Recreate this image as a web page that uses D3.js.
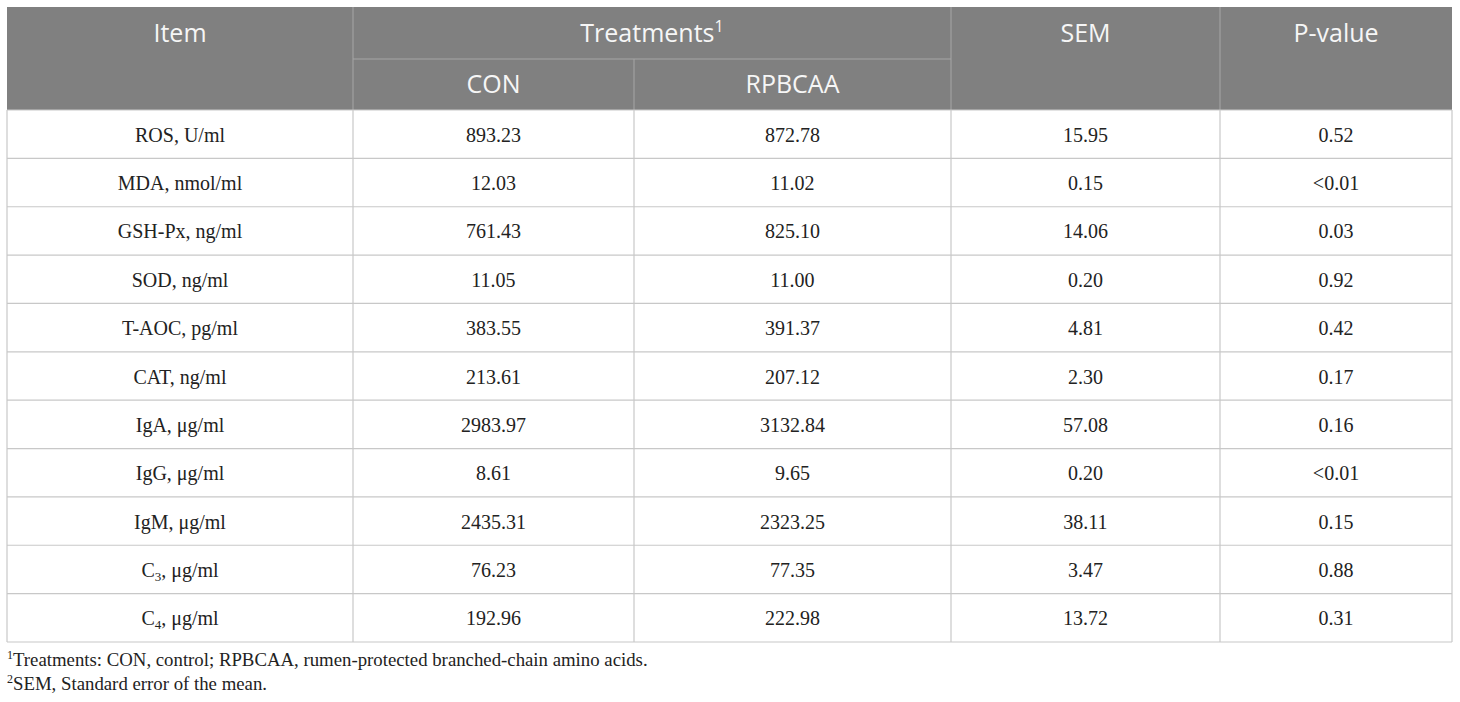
<!DOCTYPE html>
<html>
<head>
<meta charset="utf-8">
<script src="https://cdn.jsdelivr.net/npm/d3@7"></script>
<style>
  body { margin: 0; background: #fff; }
</style>
</head>
<body>
<div id="wrapper"></div>
<script>
// table data
const items = ["ROS, U/ml", "MDA, nmol/ml", "GSH-Px, ng/ml", "SOD, ng/ml", "T-AOC, pg/ml",
    "CAT, ng/ml", "IgA, μg/ml", "IgG, μg/ml", "IgM, μg/ml", "C3, μg/ml", "C4, μg/ml"];
const conValues = ["893.23", "12.03", "761.43", "11.05", "383.55", "213.61", "2983.97", "8.61", "2435.31", "76.23", "192.96"];
const rpbcaaValues = ["872.78", "11.02", "825.10", "11.00", "391.37", "207.12", "3132.84", "9.65", "2323.25", "77.35", "222.98"];
const semValues = ["15.95", "0.15", "14.06", "0.20", "4.81", "2.30", "57.08", "0.20", "38.11", "3.47", "13.72"];
const pValues = ["0.52", "<0.01", "0.03", "0.92", "0.42", "0.17", "0.16", "<0.01", "0.15", "0.88", "0.31"];
const footnotes = [
    ["1", "Treatments: CON, control; RPBCAA, rumen-protected branched-chain amino acids."],
    ["2", "SEM, Standard error of the mean."]
];

let dimension = {
    width: 1460,
    height: 702,
    left: 7,
    right: 1452,
    top: 7,
    headMid: 59,
    headBottom: 110,
    bottom: 642
}

// column edges
const colEdges = [dimension.left, 353, 634, 951, 1220, dimension.right];
const colMid = i => (colEdges[i] + colEdges[i + 1]) / 2;

const svg = d3.select("#wrapper").append("svg")
    .attr("width", dimension.width)
    .attr("height", dimension.height);

const yScale = d3.scaleBand()
    .domain(d3.range(items.length))
    .range([dimension.headBottom, dimension.bottom]);

// header background
svg.append("rect")
    .attr("x", dimension.left)
    .attr("y", dimension.top)
    .attr("width", dimension.right - dimension.left)
    .attr("height", dimension.headBottom - dimension.top)
    .attr("fill", "#808080");

const headLines = svg.append("g")
    .attr("stroke", "#a6a6a6")
    .attr("stroke-width", 1);

// vertical separators in header
[353, 951, 1220].forEach(x => {
    headLines.append("line")
        .attr("x1", x).attr("x2", x)
        .attr("y1", dimension.top).attr("y2", dimension.headBottom);
});
headLines.append("line")
    .attr("x1", 634).attr("x2", 634)
    .attr("y1", dimension.headMid).attr("y2", dimension.headBottom);
headLines.append("line")
    .attr("x1", 353).attr("x2", 951)
    .attr("y1", dimension.headMid).attr("y2", dimension.headMid);

const headFont = "'Open Sans', 'Noto Sans', sans-serif";
const headText = svg.append("g")
    .attr("fill", "#f6f6f6")
    .style("font-family", headFont)
    .style("font-size", "25px")
    .attr("text-anchor", "middle");

const midTop = 42;
headText.append("text").attr("x", colMid(0)).attr("y", midTop).text("Item");
const tr = headText.append("text").attr("x", (colEdges[1] + colEdges[3]) / 2).attr("y", midTop);
tr.append("tspan").text("Treatments");
tr.append("tspan").attr("dy", -10).style("font-size", "16px").text("1");
headText.append("text").attr("x", colMid(3)).attr("y", midTop).text("SEM");
headText.append("text").attr("x", colMid(4)).attr("y", midTop).text("P-value");
const midBot = 93;
headText.append("text").attr("x", colMid(1)).attr("y", midBot).text("CON");
headText.append("text").attr("x", colMid(2)).attr("y", midBot).text("RPBCAA");

// body grid
const grid = svg.append("g")
    .attr("stroke", "#c8c8c8")
    .attr("stroke-width", 1.2);

grid.selectAll("line.h")
    .data(d3.range(items.length + 1))
    .enter()
    .append("line")
    .attr("class", "h")
    .attr("x1", dimension.left)
    .attr("x2", dimension.right)
    .attr("y1", d => d < items.length ? yScale(d) : dimension.bottom)
    .attr("y2", d => d < items.length ? yScale(d) : dimension.bottom);

grid.selectAll("line.v")
    .data(colEdges)
    .enter()
    .append("line")
    .attr("class", "v")
    .attr("x1", d => d)
    .attr("x2", d => d)
    .attr("y1", dimension.headBottom)
    .attr("y2", dimension.bottom);

// body text
const columns = [items, conValues, rpbcaaValues, semValues, pValues];
const body = svg.append("g")
    .attr("fill", "#222")
    .style("font-family", "'Liberation Serif', 'Times New Roman', serif")
    .style("font-size", "20px")
    .attr("text-anchor", "middle");

columns.forEach((col, ci) => {
    body.selectAll("text.c" + ci)
        .data(col)
        .enter()
        .append("text")
        .attr("class", "c" + ci)
        .attr("x", colMid(ci))
        .attr("y", (d, i) => yScale(i) + yScale.bandwidth() / 2 + 7.5)
        .each(function (d) {
            const t = d3.select(this);
            const m = d.match(/^C(\d)(,.*)$/);
            if (m) {
                t.append("tspan").text("C");
                t.append("tspan").attr("dy", 4).style("font-size", "13px").text(m[1]);
                t.append("tspan").attr("dy", -4).text(m[2]);
            } else {
                t.text(d);
            }
        });
});

// footnotes
const foot = svg.append("g")
    .attr("fill", "#222")
    .style("font-family", "'Liberation Serif', 'Times New Roman', serif")
    .style("font-size", "18.8px");

foot.selectAll("text")
    .data(footnotes)
    .enter()
    .append("text")
    .attr("x", dimension.left)
    .attr("y", (d, i) => 666 + i * 24)
    .each(function (d) {
        const t = d3.select(this);
        t.append("tspan").attr("dy", -7).style("font-size", "12px").text(d[0]);
        t.append("tspan").attr("dy", 7).text(d[1]);
    });
</script>
</body>
</html>
